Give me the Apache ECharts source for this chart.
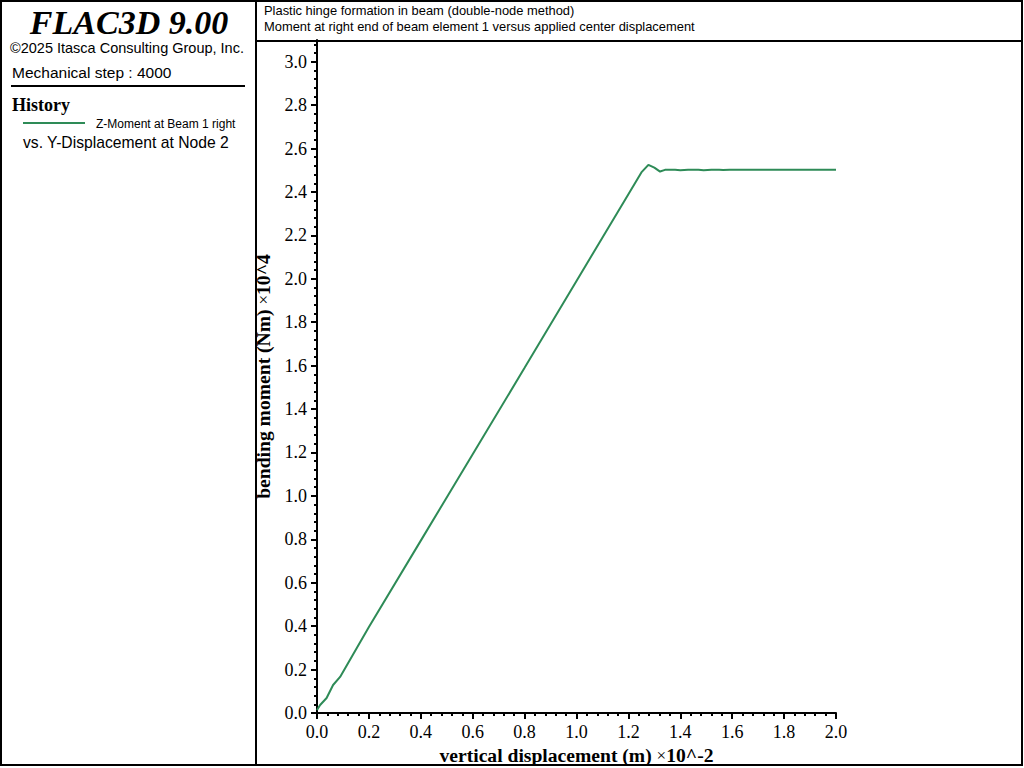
<!DOCTYPE html>
<html>
<head>
<meta charset="utf-8">
<script src="https://cdn.jsdelivr.net/npm/echarts@6/dist/echarts.min.js"></script>
<style>
html,body{margin:0;padding:0;background:#fff;}
#chart{width:1024px;height:768px;}
</style>
</head>
<body>
<div id="chart"></div>
<script>
// Data
var displacement = [0, 0.012, 0.037, 0.062, 0.089, 0.2, 0.4, 0.6, 0.8, 1.0, 1.2, 1.25, 1.277, 1.30, 1.322, 1.341, 1.38, 1.40, 1.43, 1.47, 1.49, 1.52, 1.55, 1.565, 1.59, 1.70, 1.80, 2.0];
var moment = [0.014, 0.037, 0.069, 0.129, 0.166, 0.396, 0.794, 1.192, 1.59, 1.99, 2.39, 2.49, 2.525, 2.512, 2.494, 2.502, 2.502, 2.500, 2.502, 2.502, 2.500, 2.502, 2.502, 2.501, 2.502, 2.502, 2.502, 2.502];
var yTicks = [0.0, 0.2, 0.4, 0.6, 0.8, 1.0, 1.2, 1.4, 1.6, 1.8, 2.0, 2.2, 2.4, 2.6, 2.8, 3.0];
var xTicks = [0.0, 0.2, 0.4, 0.6, 0.8, 1.0, 1.2, 1.4, 1.6, 1.8, 2.0];
var seriesName = 'Z-Moment at Beam 1 right';
var titleLines = ['Plastic hinge formation in beam (double-node method)', 'Moment at right end of beam element 1 versus applied center displacement'];

var chart = echarts.init(document.getElementById('chart'), null, {renderer: 'svg'});
var data = displacement.map(function (d, i) { return [d, moment[i]]; });
var green = '#2e8b57';
var serif = '"Liberation Serif","Times New Roman",serif';
var sans = '"Liberation Sans",Arial,sans-serif';
var nameRich = {b: {fontFamily: serif, fontWeight: 'bold', fontSize: 19.6, color: '#000'}, r: {fontFamily: serif, fontSize: 17, color: '#000'}};

var option = {
  backgroundColor: '#fff',
  animation: false,
  grid: {left: 317, right: 188, top: 40, bottom: 55, containLabel: false, outerBoundsMode: 'none'},
  xAxis: {
    type: 'value', min: 0, max: 2.0, interval: 0.2,
    name: '{b|vertical displacement (m) }{r|×}{b|10^-2}',
    nameLocation: 'middle', nameGap: 31,
    nameTextStyle: {rich: nameRich},
    axisLine: {show: true, onZero: false, lineStyle: {color: '#000', width: 2}},
    axisTick: {show: true, inside: false, length: 6, lineStyle: {color: '#000', width: 2}, customValues: xTicks},
    minorTick: {show: true, splitNumber: 5, length: 3, lineStyle: {color: '#000', width: 2}},
    axisLabel: {show: true, margin: 10, color: '#000', fontFamily: serif, fontSize: 18, customValues: xTicks, formatter: function (v) { return v.toFixed(1); }},
    splitLine: {show: false}, minorSplitLine: {show: false}
  },
  yAxis: {
    type: 'value', min: 0, max: 3.1, interval: 0.2,
    name: '{b|bending moment (Nm) }{r|×}{b|10^4}',
    nameLocation: 'middle', nameGap: 39, nameRotate: 90,
    nameTextStyle: {rich: nameRich},
    axisLine: {show: true, onZero: false, lineStyle: {color: '#000', width: 2}},
    axisTick: {show: true, inside: false, length: 6, lineStyle: {color: '#000', width: 2}, customValues: yTicks},
    minorTick: {show: true, splitNumber: 5, length: 3, lineStyle: {color: '#000', width: 2}},
    axisLabel: {show: true, margin: 10, color: '#000', fontFamily: serif, fontSize: 18, customValues: yTicks, formatter: function (v) { return v.toFixed(1); }},
    splitLine: {show: false}, minorSplitLine: {show: false}
  },
  series: [{
    name: seriesName, type: 'line', data: data, showSymbol: false, symbol: 'none',
    lineStyle: {color: green, width: 2}, itemStyle: {color: green}
  }],
  graphic: [
    // outer frame
    {type: 'rect', shape: {x: 1, y: 1, width: 1021, height: 764}, style: {fill: 'none', stroke: '#000', lineWidth: 2}, silent: true},
    {type: 'line', shape: {x1: 256, y1: 0, x2: 256, y2: 766}, style: {stroke: '#000', lineWidth: 2}},
    {type: 'line', shape: {x1: 256, y1: 41, x2: 1023, y2: 41}, style: {stroke: '#000', lineWidth: 2}},
    // header text
    {type: 'text', left: 264, top: 4, style: {text: titleLines[0], fontFamily: sans, fontSize: 12.9, fill: '#000'}},
    {type: 'text', left: 264, top: 20, style: {text: titleLines[1], fontFamily: sans, fontSize: 12.9, fill: '#000'}},
    // left panel
    {type: 'text', x: 129, y: 22, style: {text: 'FLAC3D 9.00', fontFamily: serif, fontWeight: 'bold', fontStyle: 'italic', fontSize: 34, fill: '#000', align: 'center', verticalAlign: 'middle'}},
    {type: 'text', x: 10, y: 48, style: {text: '©2025 Itasca Consulting Group, Inc.', fontFamily: sans, fontSize: 14.5, fill: '#000', verticalAlign: 'middle'}},
    {type: 'text', x: 12, y: 72, style: {text: 'Mechanical step : 4000', fontFamily: sans, fontSize: 15.5, fill: '#000', verticalAlign: 'middle'}},
    {type: 'line', shape: {x1: 11, y1: 86, x2: 245, y2: 86}, style: {stroke: '#000', lineWidth: 2}},
    {type: 'text', x: 12, y: 105, style: {text: 'History', fontFamily: serif, fontWeight: 'bold', fontSize: 18, fill: '#000', verticalAlign: 'middle'}},
    {type: 'line', shape: {x1: 23, y1: 123, x2: 85, y2: 123}, style: {stroke: green, lineWidth: 2}},
    {type: 'text', x: 96, y: 124, style: {text: seriesName, fontFamily: sans, fontSize: 12, fill: '#000', verticalAlign: 'middle'}},
    {type: 'text', x: 23, y: 142, style: {text: 'vs. Y-Displacement at Node 2', fontFamily: sans, fontSize: 15.7, fill: '#000', verticalAlign: 'middle'}}
  ]
};
chart.setOption(option);
</script>
</body>
</html>
